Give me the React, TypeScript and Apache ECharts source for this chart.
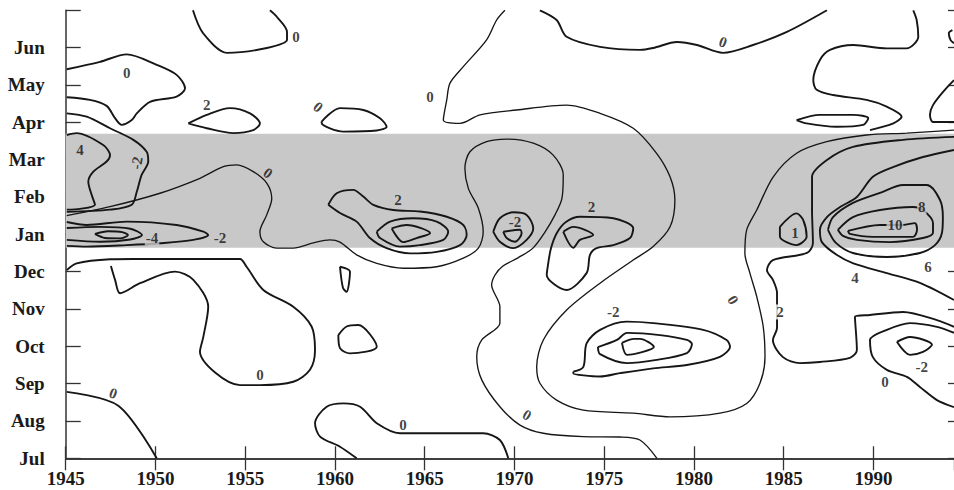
import React, { useEffect, useRef } from "react";
import * as echarts from "echarts";

// Axis categories
const monthLabels = ["Jul", "Aug", "Sep", "Oct", "Nov", "Dec", "Jan", "Feb", "Mar", "Apr", "May", "Jun"];
const yearMin = 1945;
const yearMax = 1994.49;
const yearStep = 5;

// Shaded band (month index units, Jul = 0)
const bandRange = [5.64, 8.69];

// Contour lines, [year, month-index]
const cA = [[1952.09, 12], [1952.65, 11.39], [1953.99, 10.86], [1956.21, 10.99], [1957.33, 11.21], [1957.33, 11.42], [1956.77, 11.82], [1956.38, 12]];
const cB = [[1945.06, 10.42], [1946.91, 10.62], [1948.4, 10.82], [1950.07, 10.54], [1951.18, 10.27], [1951.65, 9.91], [1951.18, 9.69], [1949.7, 9.55], [1948.96, 9.24], [1948.68, 9.06], [1948.12, 8.93], [1947.75, 9.11], [1947.28, 9.44], [1946.35, 9.6], [1945.06, 9.67]];
const cC = [[1945.06, 9.24], [1946.17, 9.15], [1947.47, 8.84], [1948.77, 8.53], [1949.51, 8.21], [1949.6, 7.95], [1949.23, 7.59], [1948.96, 7.14], [1948.68, 6.79], [1947.47, 6.66], [1945.06, 6.6]];
const cD = [[1945.06, 8.66], [1945.61, 8.71], [1947.09, 8.39], [1947.47, 8.12], [1947.28, 7.95], [1946.54, 7.68], [1946.26, 7.41], [1946.45, 7.05], [1946.63, 6.79], [1945.8, 6.68], [1945.06, 6.66]];
const cE = [[1945.06, 6.5], [1947.47, 6.74], [1950.25, 7.1], [1952.48, 7.5], [1953.78, 7.81], [1954.53, 7.86], [1955.45, 7.68], [1956.2, 7.37], [1956.48, 6.96], [1956.2, 6.52], [1955.82, 6.07], [1956.01, 5.8], [1956.75, 5.63], [1957.68, 5.63], [1958.79, 5.77], [1959.72, 5.85], [1960.28, 5.79], [1961.21, 5.45], [1962.33, 5.22], [1963.81, 5.09], [1965.67, 5.13], [1967.15, 5.36], [1967.99, 5.63], [1968.26, 6.07], [1967.99, 6.7], [1967.43, 7.23], [1967.24, 7.77], [1967.52, 8.21], [1968.45, 8.48], [1969.57, 8.55], [1971.05, 8.44], [1972.16, 8.12], [1972.72, 7.59], [1972.65, 6.97], [1972.26, 6.52], [1971.7, 6.06], [1971.03, 5.63], [1970.2, 5.37], [1969.36, 5.15], [1968.92, 4.91], [1968.73, 4.64], [1969.19, 4.06], [1969.19, 3.62], [1968.18, 3.17], [1967.9, 2.72], [1968.18, 2.1], [1969.19, 1.38], [1970.31, 0.89], [1971.61, 0.67], [1973.84, 0.58], [1975.88, 0.57], [1976.99, 0.49], [1977.94, 0]];
const cU = [[1969.47, 12], [1969.01, 11.74], [1968.45, 11.21], [1967.15, 10.49], [1966.41, 10.05], [1966.23, 9.6], [1966.04, 9.06], [1966.97, 8.97], [1968.08, 9.2], [1970.12, 9.33], [1972.91, 9.46], [1974.77, 9.24], [1976.62, 8.84], [1977.92, 8.17], [1978.67, 7.54], [1978.94, 6.92], [1978.67, 6.2], [1977.73, 5.67], [1976.62, 5.31], [1974.77, 4.69], [1972.91, 3.97], [1971.61, 3.17], [1971.24, 2.45], [1971.42, 2.01], [1972.35, 1.56], [1973.84, 1.29], [1976.62, 1.21], [1978.67, 1.11], [1981.45, 1.21], [1982.94, 1.47], [1983.68, 2.01], [1983.96, 2.72], [1983.86, 3.53], [1983.5, 4.33], [1983.12, 4.96], [1982.84, 5.49], [1982.94, 6.12], [1983.5, 6.65], [1984.42, 7.54], [1985.72, 8.17], [1987.4, 8.48], [1989.62, 8.66], [1991.85, 8.71], [1994.49, 8.79]];
const cTR = [[1992.22, 12], [1992.41, 11.74], [1992.5, 11.29], [1991.85, 10.98], [1990.74, 10.98], [1988.88, 11.07], [1987.58, 10.94], [1987.02, 10.67], [1986.65, 10.13], [1986.84, 9.87], [1987.76, 9.73], [1989.62, 9.6], [1990.74, 9.42], [1991.57, 9.15], [1991.11, 8.97], [1989.81, 8.79]];
const cT2 = [[1971.42, 12], [1972.35, 11.74], [1972.91, 11.29], [1974.77, 11.02], [1976.99, 10.94], [1977.72, 10.99], [1979.06, 11.15], [1980.17, 11.07], [1981.62, 10.86], [1983.29, 11.07], [1985.18, 11.42], [1987.41, 12]];
const cL1 = [[1959.26, 9.02], [1960.28, 9.38], [1961.58, 9.33], [1962.51, 9.11], [1962.88, 8.88], [1962.33, 8.78], [1960.47, 8.75], [1959.26, 8.98], [1959.26, 9.02]];
const cL2 = [[1951.83, 8.97], [1952.86, 9.2], [1954.15, 9.38], [1955.27, 9.24], [1955.82, 8.97], [1955.45, 8.79], [1954.34, 8.71], [1952.86, 8.84], [1951.83, 8.97]];
const cL3 = [[1985.72, 9.06], [1987.02, 9.2], [1988.88, 9.2], [1989.71, 9.11], [1989.43, 8.93], [1987.95, 8.88], [1986.28, 8.97], [1985.72, 9.06]];
const cTR2 = [[1994.49, 10.13], [1993.98, 9.87], [1993.32, 9.46], [1993.15, 9.2], [1993.32, 9.01], [1994.49, 9.01]];
const cTR3 = [[1994.4, 11.47], [1994.2, 11.39], [1994.3, 11.2], [1994.49, 11.12]];
const cK2 = [[1959.63, 6.79], [1960.1, 7.1], [1961.02, 7.19], [1961.58, 7.01], [1962.14, 6.79], [1963.25, 6.65], [1964.74, 6.61], [1966.23, 6.47], [1967.15, 6.25], [1967.34, 5.98], [1966.97, 5.71], [1965.67, 5.53], [1964.18, 5.49], [1962.88, 5.63], [1961.95, 5.9], [1961.21, 6.34], [1960.28, 6.57], [1959.63, 6.79]];
const cK4 = [[1962.33, 6.07], [1963.07, 6.34], [1964.36, 6.43], [1965.67, 6.34], [1966.31, 6.07], [1966.04, 5.85], [1964.74, 5.71], [1963.62, 5.67], [1962.51, 5.9], [1962.33, 6.07]];
const cK6 = [[1963.16, 6.16], [1964.0, 6.25], [1965.3, 6.03], [1964.55, 5.9], [1963.81, 5.79], [1963.16, 6.16]];
const cM2 = [[1968.82, 6.07], [1969.19, 6.43], [1969.94, 6.59], [1970.68, 6.52], [1971.05, 6.16], [1970.68, 5.85], [1969.94, 5.63], [1969.19, 5.8], [1968.82, 6.07]];
const cM4 = [[1969.38, 6.07], [1970.31, 6.12], [1970.4, 6.03], [1970.03, 5.8], [1969.57, 5.9], [1969.38, 6.07]];
const cN2 = [[1971.87, 5.18], [1972.04, 5.63], [1972.37, 6.04], [1972.87, 6.33], [1973.65, 6.47], [1975.51, 6.43], [1976.62, 6.16], [1976.44, 5.9], [1975.51, 5.71], [1974.58, 5.63], [1974.21, 5.45], [1974.02, 4.96], [1972.91, 4.51], [1971.8, 4.91], [1971.87, 5.18]];
const cN4 = [[1972.72, 6.07], [1973.28, 6.2], [1974.39, 5.98], [1973.65, 5.85], [1973.28, 5.64], [1972.72, 6.07]];
const cJ2 = [[1945.06, 6.33], [1946.17, 6.25], [1948.4, 6.34], [1951.18, 6.25], [1952.67, 6.07], [1952.94, 5.98], [1952.11, 5.85], [1950.25, 5.76], [1948.4, 5.71], [1946.17, 5.67], [1945.06, 5.69]];
const cJ4 = [[1945.06, 6.17], [1946.91, 6.2], [1948.6, 6.15], [1949.25, 5.98], [1948.6, 5.86], [1946.91, 5.8], [1945.06, 5.85]];
const cJ6 = [[1946.63, 6.01], [1947.36, 6.08], [1948.14, 6.06], [1948.47, 5.98], [1948.03, 5.89], [1947.19, 5.9], [1946.63, 6.01]];
const cBL = [[1945.06, 5.04], [1945.61, 5.22], [1947.47, 5.33], [1948.77, 5.34], [1952.48, 5.34], [1954.71, 5.34], [1955.08, 5.13], [1956.01, 4.51], [1957.68, 4.06], [1958.7, 3.53], [1958.89, 2.9], [1958.61, 2.37], [1957.68, 2.05], [1955.82, 1.96], [1954.71, 1.96], [1952.48, 2.86], [1952.67, 3.26], [1952.94, 4.06], [1952.11, 4.78], [1951.09, 5.0], [1949.14, 4.69], [1948.03, 4.42], [1947.75, 4.78], [1947.52, 5.15]];
const cBL0 = [[1945.06, 1.78], [1947.93, 1.41], [1950.07, 0]];
const cBB = [[1961.21, 0], [1960.28, 0.31], [1959.17, 0.58], [1958.89, 0.94], [1959.54, 1.38], [1960.47, 1.47], [1961.4, 1.38], [1962.33, 0.94], [1963.62, 0.67], [1965.48, 0.67], [1968.26, 0.67], [1969.19, 0.49], [1969.66, 0]];
const cST = [[1960.28, 5.13], [1960.84, 5.0], [1960.65, 4.46], [1960.45, 4.56], [1960.28, 5.13]];
const cSL = [[1960.19, 3.3], [1960.65, 3.53], [1961.3, 3.57], [1962.33, 2.99], [1960.84, 2.81], [1960.28, 2.95], [1960.19, 3.3]];
const cP2 = [[1973.28, 2.32], [1973.84, 2.45], [1974.02, 3.08], [1974.77, 3.44], [1976.25, 3.66], [1977.73, 3.62], [1980.52, 3.44], [1981.82, 3.17], [1982.01, 2.99], [1981.45, 2.72], [1979.6, 2.5], [1977.73, 2.41], [1975.88, 2.28], [1974.77, 2.19], [1973.28, 2.28], [1973.28, 2.32]];
const cP4 = [[1974.65, 2.98], [1975.71, 3.17], [1976.27, 3.36], [1978.11, 3.3], [1979.61, 3.17], [1979.89, 3.06], [1979.61, 2.82], [1977.83, 2.63], [1976.27, 2.55], [1974.77, 2.79], [1974.65, 2.98]];
const cP6 = [[1975.99, 3.09], [1976.66, 3.2], [1976.99, 3.2], [1977.77, 2.98], [1977.16, 2.85], [1976.27, 2.77], [1975.99, 3.09]];
const cQ1 = [[1984.79, 6.2], [1985.72, 6.56], [1986.09, 6.38], [1986.28, 5.94], [1985.72, 5.71], [1984.79, 5.94], [1984.79, 6.2]];
const cR2 = [[1994.49, 8.61], [1991.65, 8.53], [1988.86, 8.34], [1987.41, 7.99], [1986.58, 7.54], [1986.58, 6.65], [1986.63, 5.77], [1986.3, 5.5], [1984.4, 5.31], [1984.07, 5.04], [1984.4, 4.78], [1984.63, 4.43], [1984.63, 3.49], [1984.4, 3.17], [1984.96, 2.71], [1985.91, 2.55], [1987.02, 2.58], [1988.69, 2.69], [1989.08, 2.9], [1988.97, 3.79], [1989.81, 3.84], [1991.65, 3.92], [1993.54, 3.7], [1994.49, 3.52]];
const cR4 = [[1994.49, 8.26], [1992.76, 8.07], [1991.09, 7.8], [1989.97, 7.54], [1989.08, 7.0], [1988.14, 6.73], [1987.41, 6.46], [1987.02, 6.12], [1987.13, 5.79], [1987.95, 5.45], [1988.88, 5.22], [1990.75, 4.96], [1992.59, 4.7], [1994.49, 4.24]];
const cR6 = [[1987.47, 6.12], [1987.75, 6.46], [1988.86, 6.84], [1990.37, 7.11], [1991.65, 7.32], [1992.98, 7.32], [1993.71, 6.92], [1993.87, 6.46], [1993.82, 6.04], [1993.43, 5.71], [1992.59, 5.5], [1990.75, 5.39], [1988.86, 5.5], [1987.91, 5.77], [1987.47, 6.12]];
const cR8 = [[1988.02, 6.12], [1988.86, 6.46], [1990.37, 6.65], [1992.2, 6.73], [1992.76, 6.65], [1993.32, 6.3], [1993.32, 6.04], [1992.76, 5.9], [1990.92, 5.79], [1989.08, 5.85], [1988.3, 5.96], [1988.02, 6.12]];
const cR10 = [[1988.58, 6.09], [1990.37, 6.25], [1991.65, 6.25], [1992.31, 6.3], [1992.43, 6.12], [1992.2, 5.93], [1989.97, 5.93], [1988.69, 6.01], [1988.58, 6.09]];
const cS0 = [[1994.49, 3.36], [1993.54, 3.52], [1992.04, 3.62], [1990.75, 3.44], [1989.81, 3.17], [1989.97, 2.71], [1990.75, 2.37], [1991.87, 2.18], [1992.59, 1.91], [1993.54, 1.56], [1994.49, 1.37]];
const cS2 = [[1991.31, 3.12], [1992.04, 3.25], [1993.26, 3.04], [1992.76, 2.85], [1992.04, 2.77], [1991.31, 3.12]];

const thickContours = [cA, cB, cC, cD, cT2, cTR, cL1, cL2, cL3, cTR2, cTR3, cK2, cK4, cK6, cM2, cM4, cN2, cN4, cJ2, cJ4, cJ6, cBL, cBL0, cBB, cST, cSL, cP2, cP4, cP6, cQ1, cR2, cR4, cR6, cR8, cR10, cS0, cS2];
const thinContours = [cE, cU];

// Contour labels
const labelText = ["0", "0", "2", "0", "0", "0", "4", "-2", "0", "-4", "-2", "2", "-2", "2", "1", "10", "8", "6", "4", "2", "-2", "0", "0", "-2", "0", "0", "0", "0"];
const labelYear = [1957.83, 1948.4, 1952.86, 1959.06, 1965.3, 1981.62, 1945.8, 1948.96, 1956.27, 1949.81, 1953.6, 1963.51, 1970.03, 1974.3, 1985.63, 1991.2, 1992.7, 1993.04, 1988.97, 1984.79, 1975.51, 1982.17, 1990.64, 1992.7, 1955.82, 1947.65, 1963.79, 1970.7];
const labelMonth = [11.29, 10.31, 9.46, 9.41, 9.68, 11.15, 8.26, 7.91, 7.64, 5.9, 5.9, 6.92, 6.33, 6.74, 6.03, 6.25, 6.73, 5.12, 4.83, 3.92, 3.93, 4.24, 2.04, 2.45, 2.23, 1.74, 0.89, 1.16];
const labelRotate = [0, 0, 0, -40, 0, -20, 0, 80, -35, 0, 0, 0, 0, 0, 0, 0, 0, 0, 0, 0, 0, -60, 0, 0, 0, -20, 0, -30];

const BAND = "#c8c8c8";
const INK = "#161616";
const FONT = "Liberation Serif";

export default function App() {
  const ref = useRef<HTMLDivElement>(null);
  useEffect(() => {
    if (!ref.current) return;
    const chart = echarts.init(ref.current, null, { renderer: "svg" });
    const lineSeries = (d: number[][], w: number) => ({
      type: "line",
      data: d,
      smooth: 0.3,
      symbol: "none",
      showSymbol: false,
      silent: true,
      lineStyle: { color: INK, width: w },
      z: 3,
    });
    const inBand = (m: number) => m > bandRange[0] && m < bandRange[1];
    const masked = new Set([9, 10, 15, 16, 19]);
    const option: any = {
      animation: false,
      backgroundColor: "#ffffff",
      grid: { left: 65.7, top: 10.3, right: 0, bottom: 31.7, containLabel: false, outerBoundsMode: "none" },
      xAxis: [
        {
          type: "value", position: "bottom", min: yearMin, max: yearMax, interval: yearStep,
          axisLine: { show: true, lineStyle: { color: "#333", width: 1.5 } },
          axisTick: { show: true, inside: true, length: 12, lineStyle: { color: "#333", width: 1.3 } },
          axisLabel: {
            show: true, margin: 11, fontFamily: FONT, fontWeight: "bold", fontSize: 19, color: "#1a1a1a",
            showMaxLabel: false,
            formatter: (v: number) => (Math.abs(v % yearStep) < 1e-6 ? String(v) : ""),
          },
          splitLine: { show: false },
        },
        {
          type: "value", position: "top", min: yearMin, max: yearMax, interval: yearStep,
          axisLine: { show: true, lineStyle: { color: "#333", width: 1.5 } },
          axisTick: { show: true, inside: true, length: 12, lineStyle: { color: "#333", width: 1.3 } },
          axisLabel: { show: false },
          splitLine: { show: false },
        },
      ],
      yAxis: [
        {
          type: "value", position: "left", min: 0, max: 12, interval: 1,
          axisLine: { show: true, lineStyle: { color: "#333", width: 1.5 } },
          axisTick: { show: true, inside: true, length: 15, lineStyle: { color: "#333", width: 1.3 } },
          axisLabel: {
            show: true, margin: 21, fontFamily: FONT, fontWeight: "bold", fontSize: 19, color: "#1a1a1a",
            formatter: (v: number) => monthLabels[Math.round(v)] ?? "",
          },
          splitLine: { show: false },
        },
        {
          type: "value", position: "right", min: 0, max: 12, interval: 1,
          axisLine: { show: false },
          axisTick: { show: true, inside: true, length: 6, lineStyle: { color: "#333", width: 1.3 } },
          axisLabel: { show: false },
          splitLine: { show: false },
        },
      ],
      series: [
        {
          type: "line",
          data: [],
          silent: true,
          z: 1,
          markArea: {
            silent: true,
            itemStyle: { color: BAND },
            data: [[{ yAxis: bandRange[0] }, { yAxis: bandRange[1] }]],
          },
        },
        ...thickContours.map((d) => lineSeries(d, 1.9)),
        ...thinContours.map((d) => lineSeries(d, 1.35)),
        {
          type: "scatter",
          symbolSize: 1,
          silent: true,
          z: 10,
          itemStyle: { color: "rgba(0,0,0,0)" },
          label: {
            show: true, position: "inside", fontFamily: FONT, fontWeight: "bold", fontSize: 15, color: "#111",
          },
          data: labelText.map((t, i) => ({
            value: [labelYear[i], labelMonth[i]],
            label: {
              formatter: t,
              rotate: labelRotate[i],
              backgroundColor: masked.has(i) ? (inBand(labelMonth[i]) ? BAND : "#ffffff") : "transparent",
              padding: masked.has(i) ? [0, 1] : 0,
            },
          })),
        },
      ],
    };
    chart.setOption(option);
    return () => chart.dispose();
  }, []);
  return (
    <div
      ref={ref}
      style={{ position: "fixed", left: 0, top: 0, width: 954, height: 490, background: "#fff" }}
    />
  );
}
